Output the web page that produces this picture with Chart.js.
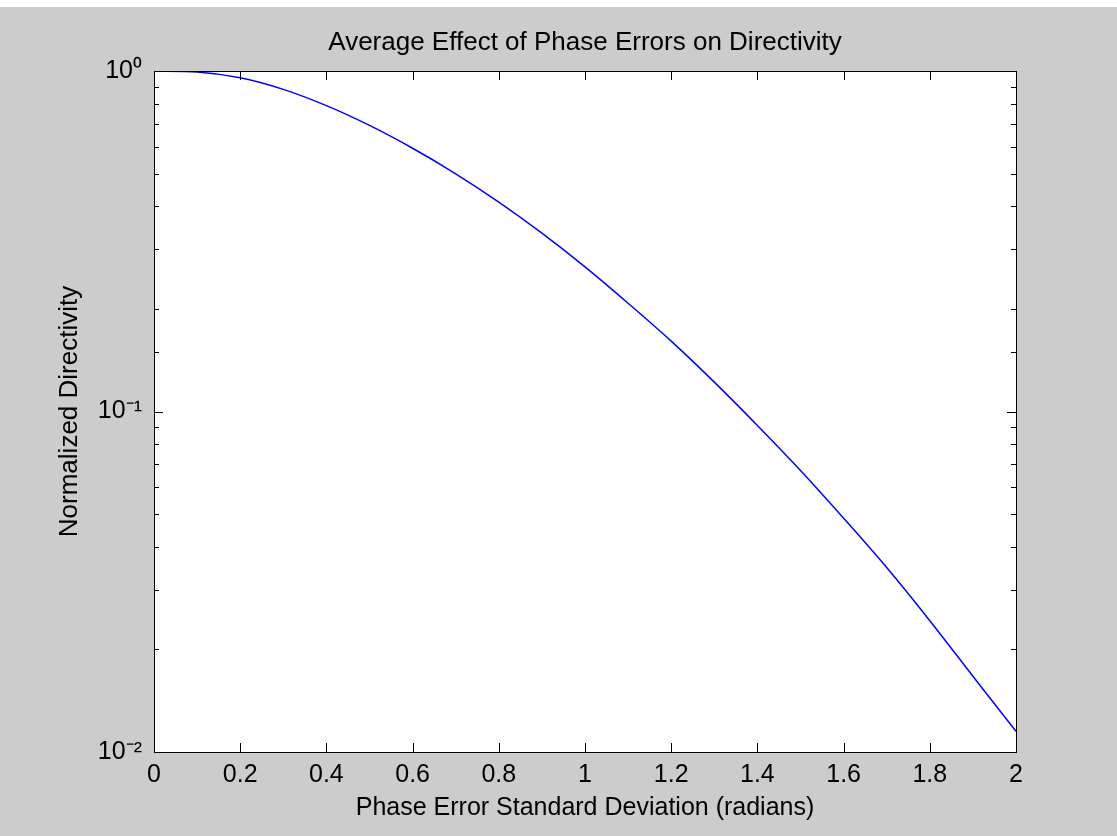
<!doctype html>
<html lang="en">
<head>
    <title>Average Effect of Phase Errors on Directivity</title>
    <meta charset="UTF-8">
    <style>
        body { margin: 0; background: #ffffff; }
        #graph-container { position: absolute; left: 0; top: 7px; width: 1117px; height: 829px; background: #cccccc; }
    </style>
</head>
<body>
    <div id="graph-container">
        <canvas id="my-chart" width="1117" height="829"></canvas>
    </div>
</body>
<script src="https://cdn.jsdelivr.net/npm/chart.js@4/dist/chart.umd.min.js"></script>
<script>

    // phase error standard deviation (radians)
    let sigma = [0, 0.1, 0.2, 0.3, 0.4, 0.5, 0.6, 0.7, 0.8, 0.9, 1.0,
                 1.1, 1.2, 1.3, 1.4, 1.5, 1.6, 1.7, 1.8, 1.9, 2.0]
    // normalized directivity
    let directivity = [1.0, 0.993, 0.955, 0.883, 0.791, 0.692, 0.593, 0.499, 0.412, 0.334, 0.266,
                       0.208, 0.161, 0.122, 0.091, 0.0671, 0.0486, 0.0348, 0.0243, 0.0167, 0.0115]
    let yDecades = {1: '10\u2070', 0.1: '10\u207B\u00B9', 0.01: '10\u207B\u00B2'}

    let fontFamily = "'Liberation Sans', Arial, sans-serif"

    let points = sigma.map((s, i) => ({x: s, y: directivity[i]}))

    function isDecade(v) {
        let l = Math.log10(v)
        return Math.abs(l - Math.round(l)) < 1e-9
    }

    // white axes background, matlab style box with inward ticks on all four sides
    let boxTicks = {
        id: 'boxTicks',
        beforeDraw(chart) {
            let a = chart.chartArea
            chart.ctx.save()
            chart.ctx.fillStyle = '#ffffff'
            chart.ctx.fillRect(a.left, a.top, a.right - a.left, a.bottom - a.top)
            chart.ctx.restore()
        },
        afterDraw(chart) {
            let ctx = chart.ctx
            let a = chart.chartArea
            let xs = chart.scales.x
            let ys = chart.scales.y
            ctx.save()
            ctx.strokeStyle = '#000000'
            ctx.lineWidth = 1
            ctx.beginPath()
            xs.ticks.forEach(t => {
                let px = Math.round(xs.getPixelForValue(t.value)) + 0.5
                ctx.moveTo(px, a.bottom)
                ctx.lineTo(px, a.bottom - 9)
                ctx.moveTo(px, a.top)
                ctx.lineTo(px, a.top + 9)
            })
            ys.ticks.forEach(t => {
                let py = Math.round(ys.getPixelForValue(t.value)) + 0.5
                let len = isDecade(t.value) ? 9 : 5
                ctx.moveTo(a.left, py)
                ctx.lineTo(a.left + len, py)
                ctx.moveTo(a.right, py)
                ctx.lineTo(a.right - len, py)
            })
            ctx.stroke()
            ctx.strokeRect(Math.round(a.left) + 0.5, Math.round(a.top) + 0.5,
                           Math.round(a.right - a.left), Math.round(a.bottom - a.top))
            ctx.restore()
        }
    }

    let config = {
        type: 'line',
        data: {
            datasets: [{
                data: points,
                borderColor: '#0000ff',
                borderWidth: 1.5,
                pointRadius: 0,
                cubicInterpolationMode: 'monotone',
                fill: false
            }]
        },
        options: {
            responsive: false,
            animation: false,
            devicePixelRatio: 1,
            layout: {
                padding: {left: 0, right: 101, top: 0, bottom: 0}
            },
            plugins: {
                legend: { display: false },
                tooltip: { enabled: false }
            },
            scales: {
                x: {
                    type: 'linear',
                    min: 0,
                    max: 2,
                    grid: { display: false, drawTicks: false },
                    border: { display: false },
                    ticks: {
                        stepSize: 0.2,
                        padding: 8,
                        color: '#000000',
                        maxRotation: 0,
                        autoSkip: false,
                        font: { family: fontFamily, size: 25 },
                        callback: v => String(+v.toFixed(1))
                    },
                    title: {
                        display: true,
                        text: 'Phase Error Standard Deviation (radians)',
                        color: '#000000',
                        font: { family: fontFamily, size: 25 },
                        padding: { top: 0, bottom: 13 }
                    },
                    afterFit: s => { s.height = 84 }
                },
                // top axis only carries the plot title, centred over the axes
                x2: {
                    type: 'linear',
                    position: 'top',
                    min: 0,
                    max: 2,
                    grid: { display: false, drawTicks: false },
                    border: { display: false },
                    ticks: { display: false },
                    title: {
                        display: true,
                        text: 'Average Effect of Phase Errors on Directivity',
                        color: '#000000',
                        font: { family: fontFamily, size: 26 },
                        padding: { top: 20, bottom: 0 }
                    },
                    afterFit: s => { s.height = 64 }
                },
                y: {
                    type: 'logarithmic',
                    min: 0.01,
                    max: 1,
                    grid: { display: false, drawTicks: false },
                    border: { display: false },
                    ticks: {
                        padding: 12,
                        color: '#000000',
                        autoSkip: false,
                        font: { family: fontFamily, size: 25 },
                        callback: v => isDecade(v) ? yDecades[v] || '' : ''
                    },
                    title: {
                        display: true,
                        text: 'Normalized Directivity',
                        color: '#000000',
                        font: { family: fontFamily, size: 26 },
                        padding: { top: 54, bottom: 0 }
                    },
                    afterFit: s => { s.width = 154 }
                }
            }
        },
        plugins: [boxTicks]
    }

    let myChart = new Chart(document.getElementById('my-chart'), config)

</script>
</html>
